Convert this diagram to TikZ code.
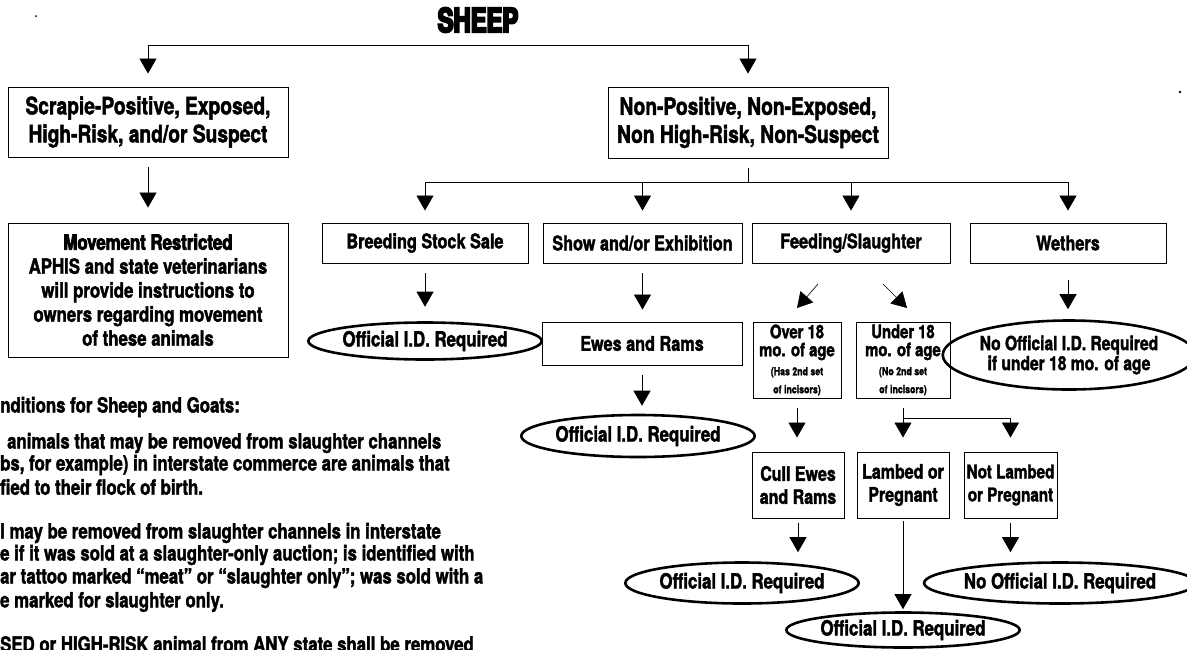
\documentclass[tikz,border=0pt]{standalone}
\usepackage{fontspec}
\setmainfont{TeX Gyre Heros}[FakeStretch=0.8, FakeBold=1.8]
\newfontfamily\ttlfont{TeX Gyre Heros}[FakeStretch=0.72, FakeBold=6]
\newfontfamily\heavyfont{TeX Gyre Heros}[FakeStretch=0.8, FakeBold=3.5]
\usetikzlibrary{arrows.meta,shapes.geometric,calc}
\begin{document}
\begin{tikzpicture}[x=1pt,y=-1pt,
  ln/.style={line width=0.8pt},
  arr/.style={line width=0.8pt,-{Triangle[length=15pt,width=17pt]}},
  box/.style={draw,line width=0.9pt,inner sep=0pt,align=center,font=\bfseries\fontsize{20.3}{23}\selectfont},
  bigbox/.style={box,font=\bfseries\fontsize{24}{28}\selectfont},
  oval/.style={draw,ellipse,line width=2.6pt,inner sep=0pt,align=center,font=\bfseries\fontsize{21}{21}\selectfont},
  para/.style={anchor=west,inner sep=0pt,font=\bfseries\fontsize{21}{23}\selectfont}
]
\useasboundingbox (0,0) rectangle (1187,649);
\clip (0,0) rectangle (1187,649);
\fill (36,16) circle (1);
\fill (1180,92) circle (1.3);

\node[inner sep=0pt,font=\ttlfont\bfseries\fontsize{33}{33}\selectfont] (sheep) at (478,20) {SHEEP};

\node[bigbox,minimum width=280pt,minimum height=70pt] (scr) at (148,122) {Scrapie-Positive, Exposed,\\High-Risk, and/or Suspect};
\node[bigbox,minimum width=280pt,minimum height=71pt] (nonp) at (748,122.5) {Non-Positive, Non-Exposed,\\Non High-Risk, Non-Suspect};

\node[box,minimum width=280pt,minimum height=134pt,font=\bfseries\fontsize{21}{24}\selectfont] (move) at (148,290) {{\heavyfont\bfseries Movement Restricted}\\APHIS and state veterinarians\\will provide instructions to\\owners regarding movement\\of these animals};

\node[box,minimum width=206pt,minimum height=40pt] (breed) at (425,243) {Breeding Stock Sale};
\node[box,minimum width=199pt,minimum height=40pt] (exhib) at (642.5,243) {Show and/or Exhibition};
\node[box,minimum width=198pt,minimum height=40pt] (feed) at (851,243) {Feeding/Slaughter};
\node[box,minimum width=196pt,minimum height=40pt] (weth) at (1068,243) {Wethers};

\node[oval,minimum width=210pt,minimum height=37pt] (breedid) at (425,341) {Official I.D. Required};
\node[box,minimum width=200pt,minimum height=43pt] (ewes) at (642,343.5) {Ewes and Rams};
\node[oval,minimum width=210pt,minimum height=42pt] (ewesid) at (638,436) {Official I.D. Required};

\node[box,minimum width=88pt,minimum height=76pt,font=\bfseries\fontsize{18.5}{18}\selectfont] (over) at (797,360) {Over 18\\mo. of age\\[1pt]\fontsize{11}{11}\selectfont(Has 2nd set\\\fontsize{11}{11}\selectfont of incisors)};
\node[box,minimum width=94pt,minimum height=76pt,font=\bfseries\fontsize{18.5}{18}\selectfont] (under) at (903,360) {Under 18\\mo. of age\\[1pt]\fontsize{11}{11}\selectfont(No 2nd set\\\fontsize{11}{11}\selectfont of incisors)};
\node[oval,minimum width=232pt,minimum height=69pt,font=\bfseries\fontsize{19.5}{20}\selectfont] (wethid) at (1069,355) {No Official I.D. Required\\if under 18 mo. of age};

\node[box,minimum width=92pt,minimum height=66pt,font=\bfseries\fontsize{20}{23}\selectfont] (cull) at (798,485) {Cull Ewes\\and Rams};
\node[box,minimum width=92pt,minimum height=66pt,font=\bfseries\fontsize{20}{23}\selectfont] (lamb) at (903,485) {Lambed or\\Pregnant};
\node[box,minimum width=93pt,minimum height=66pt,font=\bfseries\fontsize{19}{23}\selectfont] (notl) at (1010.5,485) {Not Lambed\\or Pregnant};

\node[oval,minimum width=209pt,minimum height=41pt] (idA) at (742,583) {Official I.D. Required};
\node[oval,minimum width=217pt,minimum height=41pt] (idB) at (1060,583) {No Official I.D. Required};
\node[oval,minimum width=207pt,minimum height=35pt] (idC) at (903,630) {Official I.D. Required};

% left notes
\node[para] (p1) at (0,407) {nditions for Sheep and Goats:};
\node[para] (p2) at (7,443) {animals that may be removed from slaughter channels};
\node[para] (p3) at (0,465) {bs, for example) in interstate commerce are animals that};
\node[para] (p4) at (0,487) {fied to their flock of birth.};
\node[para] (p5) at (0,533) {l may be removed from slaughter channels in interstate};
\node[para] (p6) at (0,555) {e if it was sold at a slaughter-only auction; is identified with};
\node[para] (p7) at (0,578) {ar tattoo marked ``meat'' or ``slaughter only''; was sold with a};
\node[para] (p8) at (0,602) {e marked for slaughter only.};
\node[para] (p9) at (0,644) {SED or HIGH-RISK animal from ANY state shall be removed};

% connectors
\coordinate (tline) at (0,45);
\draw[ln] (scr.north |- tline) -- (nonp.north |- tline);
\draw[arr,shorten >=13pt] (scr.north |- tline) -- (scr.north);
\draw[arr,shorten >=13pt] (nonp.north |- tline) -- (nonp.north);
\draw[arr,shorten <=10pt,shorten >=15pt] (scr.south) -- (move.north);

\coordinate (hline) at (0,182);
\draw[ln,shorten <=10pt] (nonp.south) -- (nonp.south |- hline);
\draw[ln] (breed.north |- hline) -- (weth.north |- hline);
\foreach \b in {breed,exhib,feed,weth}
  \draw[arr,shorten >=12pt] (\b.north |- hline) -- (\b.north);

\draw[arr,shorten <=10pt,shorten >=14.5pt] (breed.south) -- (breedid.north);
\draw[arr,shorten <=10pt,shorten >=12pt] (exhib.south) -- (exhib.south |- ewes.north);
\draw[arr,shorten <=10pt,shorten >=8pt] (ewes.south) -- (ewes.south |- ewesid.north);

\coordinate (fl1) at (818,284);
\coordinate (fl2) at (797,308);
\coordinate (fr1) at (883,284);
\coordinate (fr2) at (907,308);
\draw[arr,line width=0.6pt] (fl1) -- (fl2);
\draw[arr,line width=0.6pt] (fr1) -- (fr2);

\draw[arr,shorten <=17pt,shorten >=10pt] (weth.south) -- (weth.south |- wethid.north);

\draw[arr,shorten <=10pt,shorten >=14pt] (over.south) -- (over.south |- cull.north);
\coordinate (br) at (0,418);
\draw[arr,shorten <=10pt,shorten >=14pt] (under.south) -- (lamb.north);
\draw[ln] (under.south |- br) -- (notl.north |- br);
\draw[arr,shorten >=14pt] (notl.north |- br) -- (notl.north);

\draw[arr,shorten <=5pt,shorten >=9pt] (cull.south) -- (cull.south |- idA.north);
\draw[arr,shorten <=3pt,shorten >=2pt] (lamb.south) -- (lamb.south |- idC.north);
\draw[arr,shorten <=5pt,shorten >=9pt] (notl.south) -- (notl.south |- idB.north);
\end{tikzpicture}
\end{document}
